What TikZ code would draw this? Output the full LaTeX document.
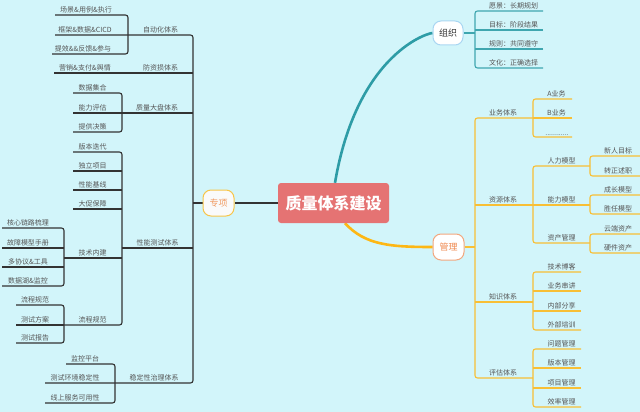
\documentclass[tikz,border=0pt]{standalone}
\usepackage{fontspec}
\newfontfamily\cjk{Noto Sans CJK SC}
\definecolor{bg}{HTML}{D2F5FA}
\definecolor{dark}{HTML}{333333}
\definecolor{txt}{HTML}{555555}
\definecolor{teal2}{HTML}{2E9CA6}
\definecolor{tealL}{HTML}{3FA6AF}
\definecolor{orng}{HTML}{FDB714}
\definecolor{orngL}{HTML}{F8BF35}
\definecolor{cen}{HTML}{E57373}
\definecolor{zxborder}{HTML}{F7C548}
\definecolor{zxtext}{HTML}{F09A62}
\definecolor{glborder}{HTML}{F2A77E}
\definecolor{gltext}{HTML}{EF8A50}
\definecolor{zzborder}{HTML}{A9D6F2}
\pgfdeclarelayer{bgl}
\pgfdeclarelayer{lines}
\pgfsetlayers{bgl,lines,main}
\tikzset{
  lbl/.style={font=\cjk\fontsize{7}{8}\selectfont, text=txt, inner sep=0pt, anchor=south},
  dk/.style={draw=dark, line width=1.1pt, rounded corners=2.5pt},
  tl/.style={draw=tealL, line width=1.1pt, rounded corners=2.5pt},
  ol/.style={draw=orngL, line width=1.1pt, rounded corners=2.5pt},
  topic/.style={font=\cjk\fontsize{9}{10}\selectfont, rounded corners=8pt, line width=1pt,
    minimum width=31pt, minimum height=26pt, inner sep=0pt},
}
\begin{document}
\begin{tikzpicture}[x=1pt,y=-1pt]
\begin{pgfonlayer}{bgl}
\fill[bg] (0,0) rectangle (640,412);
\end{pgfonlayer}
\useasboundingbox (0,0) rectangle (640,412);

% ---------- central and main topics ----------
\node[fill=cen, rounded corners=3pt, minimum width=111pt, minimum height=40pt, inner sep=0pt,
  text=white, font=\cjk\bfseries\fontsize{16}{18}\selectfont] (c) at (333.5,203) {质量体系建设};
\node[topic, fill=white!96!gray, draw=zxborder, text=zxtext] (zx) at (218.5,203) {专项};
\node[topic, fill=white, draw=glborder, text=gltext] (gl) at (448.5,247) {管理};
\node[topic, fill=white, draw=zzborder, text=dark, minimum width=30pt, minimum height=24pt] (zz) at (448,33) {组织};

% ---------- left: 专项 ----------
\coordinate (spx) at (193,0);
\coordinate (bA) at (128,0);
\coordinate (bQ) at (122,0);
\coordinate (bT) at (64,0);
\coordinate (bW) at (115,0);

\node[lbl] (auto) at (160.5,33.7) {自动化体系};
\node[lbl] (fzs) at (160.5,71.7) {防资损体系};
\node[lbl] (zl) at (157,111.7) {质量大盘体系};
\node[lbl] (xn) at (157.5,246.7) {性能测试体系};
\node[lbl] (wd) at (154,381.7) {稳定性治理体系};

\node[lbl] (a1) at (86,13.7) {场景\&用例\&执行};
\node[lbl] (a2) at (85,33.7) {框架\&数据\&CICD};
\node[lbl] (a3) at (83,52.7) {提效\&\&反馈\&参与};
\coordinate (a1L) at (55,15);
\coordinate (a2L) at (55,35);
\coordinate (a3L) at (52,54);

\node[lbl] (f1) at (85,71.7) {营销\&支付\&舆情};
\coordinate (f1L) at (54,73);

\node[lbl] (q1) at (92.5,91.7) {数据集合};
\node[lbl] (q2) at (92.5,111.7) {能力评估};
\node[lbl] (q3) at (92.5,130.7) {提供决策};
\coordinate (q1L) at (73,93);
\coordinate (q2L) at (73,113);
\coordinate (q3L) at (73,132);

\node[lbl] (p1) at (92.5,150.7) {版本迭代};
\node[lbl] (p2) at (92.5,169.7) {独立项目};
\node[lbl] (p3) at (92.5,188.7) {性能基线};
\node[lbl] (p4) at (92.5,207.7) {大促保障};
\node[lbl] (p5) at (92.5,256.7) {技术内建};
\node[lbl] (p6) at (92.5,323.7) {流程规范};
\coordinate (p1L) at (73,152);
\coordinate (p2L) at (73,171);
\coordinate (p3L) at (73,190);
\coordinate (p4L) at (73,209);
\coordinate (p5L) at (64,258);
\coordinate (p6L) at (64,325);
\coordinate (xnB) at (122,248);

\node[lbl] (t1) at (28,226.7) {核心链路梳理};
\node[lbl] (t2) at (28,246.7) {故障模型手册};
\node[lbl] (t3) at (28,265.7) {多协议\&工具};
\node[lbl] (t4) at (28,284.7) {数据湖\&监控};
\coordinate (t1L) at (2,228);
\coordinate (t2L) at (2,248);
\coordinate (t3L) at (2,267);
\coordinate (t4L) at (2,286);

\node[lbl] (r1) at (35,303.7) {流程规范};
\node[lbl] (r2) at (35,323.7) {测试方案};
\node[lbl] (r3) at (35,341.7) {测试报告};
\coordinate (r1L) at (16,305);
\coordinate (r2L) at (16,325);
\coordinate (r3L) at (16,343);

\node[lbl] (w1) at (85,362.7) {监控平台};
\node[lbl] (w2) at (75,381.7) {测试环境稳定性};
\node[lbl] (w3) at (75,401.7) {线上服务可用性};
\coordinate (w1L) at (66,364);
\coordinate (w2L) at (45,383);
\coordinate (w3L) at (45,403);

% ---------- right: 组织 ----------
\coordinate (bO) at (475,0);
\coordinate (bS) at (533,0);
\coordinate (bU) at (590,0);

\node[lbl] (o1) at (513.5,9.7) {愿景：长期规划};
\node[lbl] (o2) at (513.5,28.7) {目标：阶段结果};
\node[lbl] (o3) at (513.5,47.7) {规则：共同遵守};
\node[lbl] (o4) at (513.5,66.7) {文化：正确选择};
\coordinate (o1R) at (543,11);
\coordinate (o2R) at (543,30);
\coordinate (o3R) at (543,49);
\coordinate (o4R) at (543,68);

% ---------- right: 管理 ----------
\node[lbl] (m1) at (503,116.7) {业务体系};
\node[lbl] (m2) at (503,203.7) {资源体系};
\node[lbl] (m3) at (503,300.7) {知识体系};
\node[lbl] (m4) at (503,376.7) {评估体系};
\coordinate (m1R) at (533,118);
\coordinate (m2R) at (533,205);
\coordinate (m3R) at (533,302);
\coordinate (m4R) at (533,378);

\node[lbl] (b1) at (556.5,97.7) {A业务};
\node[lbl] (b2) at (556.5,116.7) {B业务};
\node[lbl] (b3) at (557,135.7) {............};
\coordinate (b1R) at (572,99);
\coordinate (b2R) at (572,118);
\coordinate (b3R) at (572,137);

\node[lbl] (s1) at (561.5,164.7) {人力模型};
\node[lbl] (s2) at (561.5,203.7) {能力模型};
\node[lbl] (s3) at (561.5,241.7) {资产管理};
\coordinate (s1R) at (590,166);
\coordinate (s2R) at (590,205);
\coordinate (s3R) at (590,243);

\node[lbl] (h1) at (618,154.7) {新人目标};
\node[lbl] (h2) at (618,174.7) {转正述职};
\node[lbl] (g1) at (618,193.7) {成长模型};
\node[lbl] (g2) at (618,212.7) {胜任模型};
\node[lbl] (z1) at (618,232.7) {云端资产};
\node[lbl] (z2) at (618,251.7) {硬件资产};
\coordinate (h1R) at (640,156);
\coordinate (h2R) at (640,176);
\coordinate (g1R) at (640,195);
\coordinate (g2R) at (640,214);
\coordinate (z1R) at (640,234);
\coordinate (z2R) at (640,253);

\node[lbl] (k1) at (561.5,270.7) {技术博客};
\node[lbl] (k2) at (561.5,289.7) {业务串讲};
\node[lbl] (k3) at (561.5,309.7) {内部分享};
\node[lbl] (k4) at (561.5,328.7) {外部培训};
\coordinate (k1R) at (581,272);
\coordinate (k2R) at (581,291);
\coordinate (k3R) at (581,311);
\coordinate (k4R) at (581,330);

\node[lbl] (e1) at (561.5,347.7) {问题管理};
\node[lbl] (e2) at (561.5,366.7) {版本管理};
\node[lbl] (e3) at (561.5,386.7) {项目管理};
\node[lbl] (e4) at (561.5,405.7) {效率管理};
\coordinate (e1R) at (581,349);
\coordinate (e2R) at (581,368);
\coordinate (e3R) at (581,388);
\coordinate (e4R) at (581,407);

\coordinate (k1c) at (356,59);
\coordinate (k2c) at (423,34);
\coordinate (k3c) at (365,245);
\coordinate (k4c) at (390,247);

\begin{pgfonlayer}{lines}
% main connectors
\draw[dark, line width=2.2pt] (c.west) -- (zx.east);
\draw[teal2, line width=2.6pt] ([xshift=1.5pt]c.north) .. controls (k1c) and (k2c) .. (zz.west);
\draw[orng, line width=2.6pt] ([xshift=11.5pt]c.south) .. controls (k3c) and (k4c) .. (gl.west);

% left spine
\draw[dk] (a2L) -- (a2L -| spx) -- (w2L -| spx) -- (w2L);
\draw[dk] (f1L) -- (f1L -| spx);
\draw[dk] (q2L) -- (q2L -| spx);
\draw[dk] (xnB) -- (xnB -| spx);
\draw[dk] (zx.west) -- (zx.west -| spx);
% 自动化
\draw[dk] (a1L) -- (a1L -| bA) -- (a3L -| bA) -- (a3L);
% 质量大盘
\draw[dk] (q1L) -- (q1L -| bQ) -- (q3L -| bQ) -- (q3L);
% 性能测试
\draw[dk] (p1L) -- (p1L -| bQ) -- (p6L -| bQ) -- (p6L);
\draw[dk] (p2L) -- (p2L -| bQ);
\draw[dk] (p3L) -- (p3L -| bQ);
\draw[dk] (p4L) -- (p4L -| bQ);
\draw[dk] (p5L) -- (p5L -| bQ);
\draw[dk] (t1L) -- (t1L -| bT) -- (t4L -| bT) -- (t4L);
\draw[dk] (t2L) -- (t2L -| bT);
\draw[dk] (t3L) -- (t3L -| bT);
\draw[dk] (r1L) -- (r1L -| bT) -- (r3L -| bT) -- (r3L);
\draw[dk] (r2L) -- (r2L -| bT);
% 稳定性
\draw[dk] (w1L) -- (w1L -| bW) -- (w3L -| bW) -- (w3L);

% 组织
\draw[tl] (o1R) -- (o1R -| bO) -- (o4R -| bO) -- (o4R);
\draw[tl] (o2R) -- (o2R -| bO);
\draw[tl] (o3R) -- (o3R -| bO);
\draw[tl] (zz.east) -- (zz.east -| bO);

% 管理
\draw[ol] (m1R) -- (m1R -| bO) -- (m4R -| bO) -- (m4R);
\draw[ol] (m2R) -- (m2R -| bO);
\draw[ol] (m3R) -- (m3R -| bO);
\draw[ol] (gl.east) -- (gl.east -| bO);
\draw[ol] (b1R) -- (b1R -| bS) -- (b3R -| bS) -- (b3R);
\draw[ol] (b2R) -- (b2R -| bS);
\draw[ol] (s1R) -- (s1R -| bS) -- (s3R -| bS) -- (s3R);
\draw[ol] (s2R) -- (s2R -| bS);
\draw[ol] (h1R) -- (h1R -| bU) -- (h2R -| bU) -- (h2R);
\draw[ol] (s1R) -- (s1R -| bU);
\draw[ol] (g1R) -- (g1R -| bU) -- (g2R -| bU) -- (g2R);
\draw[ol] (z1R) -- (z1R -| bU) -- (z2R -| bU) -- (z2R);
\draw[ol] (k1R) -- (k1R -| bS) -- (k4R -| bS) -- (k4R);
\draw[ol] (k2R) -- (k2R -| bS);
\draw[ol] (k3R) -- (k3R -| bS);
\draw[ol] (m3R) -- (m3R -| bS);
\draw[ol] (e1R) -- (e1R -| bS) -- (e4R -| bS) -- (e4R);
\draw[ol] (e2R) -- (e2R -| bS);
\draw[ol] (e3R) -- (e3R -| bS);
\draw[ol] (m4R) -- (m4R -| bS);
\end{pgfonlayer}
\end{tikzpicture}
\end{document}
